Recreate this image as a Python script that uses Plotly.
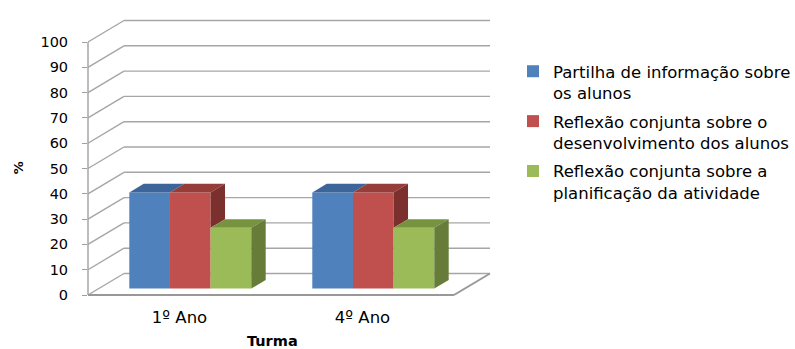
import plotly.graph_objects as go

# Chart data
categories = ["1º Ano", "4º Ano"]
series_names = [
    "Partilha de informação sobre<br>os alunos",
    "Reflexão conjunta sobre o<br>desenvolvimento dos alunos",
    "Reflexão conjunta sobre a<br>planificação da atividade",
]
series_values = [
    [38, 38],
    [38, 38],
    [24, 24],
]
y_ticks = list(range(0, 101, 10))

# Face colours per series: front, top, side
front_colors = ["#4F81BD", "#C0504D", "#9BBB59"]
top_colors = ["#3D659A", "#963D3A", "#78933F"]
side_colors = ["#34567F", "#7C302E", "#667C38"]

# Oblique projection: depth d in [0, 1] shifts x and y
DX = 36 / 183          # x units per full depth
DY = 21.5 / 2.53       # value units per full depth
D0, D1 = 0.3, 0.7      # depth occupied by the bars
W = 2 / 9              # bar width (gap width 150%)
X_LEFT, X_RIGHT = -0.5, len(categories) - 0.5


def proj(x, v, d):
    return x + d * DX, v + d * DY


fig = go.Figure()

shapes = []
grid_style = dict(color="#A6A6A6", width=1.4)
# back wall gridlines and left wall diagonals
for t in y_ticks:
    xa, ya = proj(X_LEFT, t, 0)
    xb, yb = proj(X_LEFT, t, 1)
    xc, yc = proj(X_RIGHT, t, 1)
    shapes.append(dict(type="line", xref="x", yref="y", x0=xa, y0=ya, x1=xb, y1=yb,
                       line=grid_style, layer="below"))
    shapes.append(dict(type="line", xref="x", yref="y", x0=xb, y0=yb, x1=xc, y1=yc,
                       line=grid_style, layer="below"))
# floor edges
floor_style = dict(color="#989898", width=2)
fa = proj(X_LEFT, 0, 0)
fb = proj(X_RIGHT, 0, 0)
fc = proj(X_RIGHT, 0, 1)
shapes.append(dict(type="line", xref="x", yref="y", x0=fa[0], y0=fa[1], x1=fb[0], y1=fb[1],
                   line=floor_style, layer="below"))
shapes.append(dict(type="line", xref="x", yref="y", x0=fb[0], y0=fb[1], x1=fc[0], y1=fc[1],
                   line=floor_style, layer="below"))
# front value axis line
shapes.append(dict(type="line", xref="paper", yref="y", x0=0, x1=0,
                   y0=y_ticks[0], y1=y_ticks[-1],
                   line=dict(color="#A0A0A0", width=1.4), layer="below"))

# bar fronts
for i, name in enumerate(series_names):
    xs, ys = [], []
    for g, v in enumerate(series_values[i]):
        x0 = g - 1 / 3 + i * W
        cx, _ = proj(x0 + W / 2, 0, D0)
        xs.append(cx)
        ys.append(v)
    fig.add_trace(go.Bar(
        x=xs, y=ys, base=D0 * DY, width=W, name=name,
        legendgroup=f"s{i}",
        marker=dict(color=front_colors[i], line=dict(width=0)),
    ))

# bar tops and visible sides
for i in range(len(series_names)):
    for g, v in enumerate(series_values[i]):
        x0 = g - 1 / 3 + i * W
        x1 = x0 + W
        pts = [proj(x0, v, D0), proj(x1, v, D0), proj(x1, v, D1), proj(x0, v, D1)]
        fig.add_trace(go.Scatter(
            x=[p[0] for p in pts] + [pts[0][0]], y=[p[1] for p in pts] + [pts[0][1]],
            mode="lines", fill="toself", fillcolor=top_colors[i],
            line=dict(width=0), showlegend=False, hoverinfo="skip",
        ))
        lo = series_values[i + 1][g] if i + 1 < len(series_names) else 0
        if v > lo:
            pts = [proj(x1, lo, D0), proj(x1, lo, D1), proj(x1, v, D1), proj(x1, v, D0)]
            fig.add_trace(go.Scatter(
                x=[p[0] for p in pts] + [pts[0][0]], y=[p[1] for p in pts] + [pts[0][1]],
                mode="lines", fill="toself", fillcolor=side_colors[i],
                line=dict(width=0), showlegend=False, hoverinfo="skip",
            ))

# category labels sit under the front edge of the floor
tick_x = list(range(len(categories)))

fig.update_layout(
    width=795, height=349,
    margin=dict(l=88, r=300, t=15, b=49, autoexpand=False),
    paper_bgcolor="white", plot_bgcolor="white",
    barmode="overlay",
    font=dict(family="DejaVu Sans", color="#000000"),
    xaxis=dict(range=[X_LEFT, X_LEFT + 407 / 183], showgrid=False, zeroline=False,
               showline=False, ticks="", tickvals=tick_x, ticktext=categories,
               tickfont=dict(size=16.5), ticklabelstandoff=5, fixedrange=True),
    yaxis=dict(range=[-5 / 2.53, -5 / 2.53 + 285 / 2.53], showgrid=False, zeroline=False,
               showline=False, ticks="outside", ticklen=5, tickwidth=1.4,
               tickcolor="#A0A0A0", tickvals=y_ticks, tickfont=dict(size=14.5),
               ticklabelstandoff=11, fixedrange=True),
    legend=dict(x=(513 - 88) / 407, y=(300 - 54) / 285, xanchor="left", yanchor="top",
                font=dict(size=16.5, color="#000000"), tracegroupgap=4, valign="top",
                bgcolor="rgba(0,0,0,0)"),
    annotations=[
        dict(text="<b>%</b>", xref="paper", yref="paper", x=(18.3 - 88) / 407,
             y=(300 - 168) / 285, showarrow=False, textangle=-90,
             font=dict(size=13), xanchor="center", yanchor="middle"),
        dict(text="<b>Turma</b>", xref="paper", yref="paper", x=(272 - 88) / 407,
             y=(300 - 341) / 285, showarrow=False,
             font=dict(size=14.5), xanchor="center", yanchor="middle"),
    ],
    shapes=shapes,
)

fig.write_html("out.html")
